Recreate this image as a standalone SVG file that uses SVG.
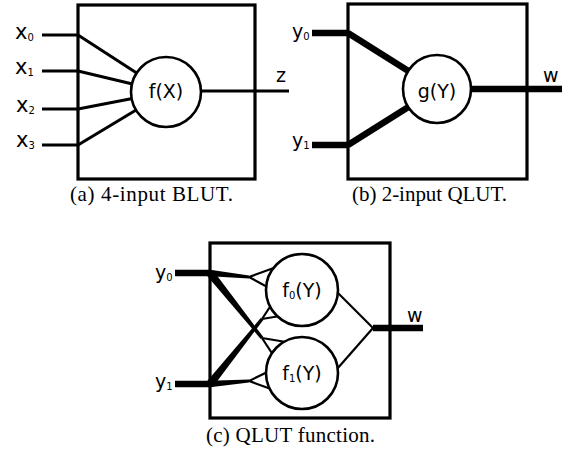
<svg xmlns="http://www.w3.org/2000/svg" width="566" height="457" viewBox="0 0 566 457">
<style>
.box{fill:none;stroke:#000;stroke-width:3.2}
.node{fill:#fff;stroke:#000;stroke-width:2.6}
.w3{stroke:#000;stroke-width:3;fill:none}
.w2{stroke:#000;stroke-width:2.2;fill:none}
.w6{stroke:#000;stroke-width:6.5;fill:none}
.tp{fill:#000;stroke:none}
.lbl{font-family:"DejaVu Sans","Liberation Sans",sans-serif;font-size:19px;fill:#000}
.xl{font-size:21px}
.sub{font-size:10px}
.cap{font-family:"Liberation Serif","Times New Roman",serif;font-size:21px;fill:#000}
</style>
<rect x="0" y="0" width="566" height="457" fill="#fff"/>
<g id="connectors">
<line class="w3" x1="42" y1="35" x2="78" y2="35"/>
<line class="w3" x1="42" y1="71" x2="78" y2="71"/>
<line class="w3" x1="42" y1="109" x2="78" y2="109"/>
<line class="w3" x1="42" y1="145" x2="78" y2="145"/>
<line class="w3" x1="78" y1="35" x2="166" y2="92"/>
<line class="w3" x1="78" y1="71" x2="166" y2="92"/>
<line class="w3" x1="78" y1="109" x2="166" y2="92"/>
<line class="w3" x1="78" y1="145" x2="166" y2="92"/>
<line class="w3" x1="166" y1="91" x2="289" y2="91"/>
<line class="w6" x1="312" y1="33" x2="348" y2="33"/>
<line class="w6" x1="312" y1="145" x2="348" y2="145"/>
<line class="w6" x1="348" y1="33" x2="437" y2="89"/>
<line class="w6" x1="348" y1="145" x2="437" y2="89"/>
<line class="w6" x1="437" y1="89" x2="562" y2="89"/>
<line class="w6" x1="175" y1="273" x2="210" y2="273"/>
<line class="w6" x1="175" y1="384" x2="210" y2="384"/>
<polygon class="tp" points="210,269.8 249,275.6 249,278.4 210,276.2"/>
<polygon class="tp" points="210,380.8 249,379.6 249,382.4 210,387.2"/>
<polygon class="tp" points="213.2,270.5 263.3,337.1 260.7,338.9 206.8,275.5"/>
<polygon class="tp" points="206.8,381.5 260.7,318.1 263.3,319.9 213.2,386.5"/>
<line class="w2" x1="249" y1="277" x2="282" y2="265"/>
<line class="w2" x1="249" y1="277" x2="282" y2="295"/>
<line class="w2" x1="249" y1="381" x2="282" y2="393"/>
<line class="w2" x1="249" y1="381" x2="282" y2="365"/>
<line class="w2" x1="262" y1="338" x2="292" y2="343"/>
<line class="w2" x1="262" y1="338" x2="281" y2="367"/>
<line class="w2" x1="262" y1="319" x2="292" y2="314"/>
<line class="w2" x1="262" y1="319" x2="281" y2="290"/>
<line class="w2" x1="330" y1="285" x2="373" y2="328"/>
<line class="w2" x1="330" y1="377" x2="373" y2="328"/>
<line class="w6" x1="373" y1="328" x2="423" y2="328"/>
</g>
<g id="panel-a">
<rect class="box" x="78" y="5" width="177" height="174"/>
<g id="node-f"><circle class="node" cx="166" cy="92" r="35"/><text class="lbl" x="166" y="98" text-anchor="middle">f(X)</text></g>
<text class="lbl xl" x="15" y="39">x<tspan class="sub" dy="2">0</tspan></text>
<text class="lbl xl" x="15" y="74">x<tspan class="sub" dy="2">1</tspan></text>
<text class="lbl xl" x="16" y="112">x<tspan class="sub" dy="2">2</tspan></text>
<text class="lbl xl" x="16" y="147">x<tspan class="sub" dy="2">3</tspan></text>
<text class="lbl" x="276" y="82">z</text>
<text class="cap" x="70" y="201" textLength="163" lengthAdjust="spacing">(a) 4-input BLUT.</text>
</g>
<g id="panel-b">
<rect class="box" x="348" y="4" width="179" height="175"/>
<g id="node-g"><circle class="node" cx="437" cy="89" r="34"/><text class="lbl" x="437" y="98" text-anchor="middle">g(Y)</text></g>
<text class="lbl" x="292" y="38">y<tspan class="sub" dy="2">0</tspan></text>
<text class="lbl" x="292" y="147">y<tspan class="sub" dy="2">1</tspan></text>
<text class="lbl" x="543" y="82">w</text>
<text class="cap" x="352" y="201" textLength="155" lengthAdjust="spacing">(b) 2-input QLUT.</text>
</g>
<g id="panel-c">
<rect class="box" x="210" y="243" width="180" height="175"/>
<g id="node-f0"><circle class="node" cx="302" cy="290" r="36"/><text class="lbl" x="302" y="297" text-anchor="middle">f<tspan class="sub" dy="2">0</tspan><tspan dy="-2">(Y)</tspan></text></g>
<g id="node-f1"><circle class="node" cx="302" cy="373" r="36"/><text class="lbl" x="302" y="380" text-anchor="middle">f<tspan class="sub" dy="2">1</tspan><tspan dy="-2">(Y)</tspan></text></g>
<text class="lbl" x="155" y="279">y<tspan class="sub" dy="2">0</tspan></text>
<text class="lbl" x="155" y="388">y<tspan class="sub" dy="2">1</tspan></text>
<text class="lbl" x="407" y="322">w</text>
<text class="cap" x="206" y="442" textLength="169" lengthAdjust="spacing">(c) QLUT function.</text>
</g>
</svg>
